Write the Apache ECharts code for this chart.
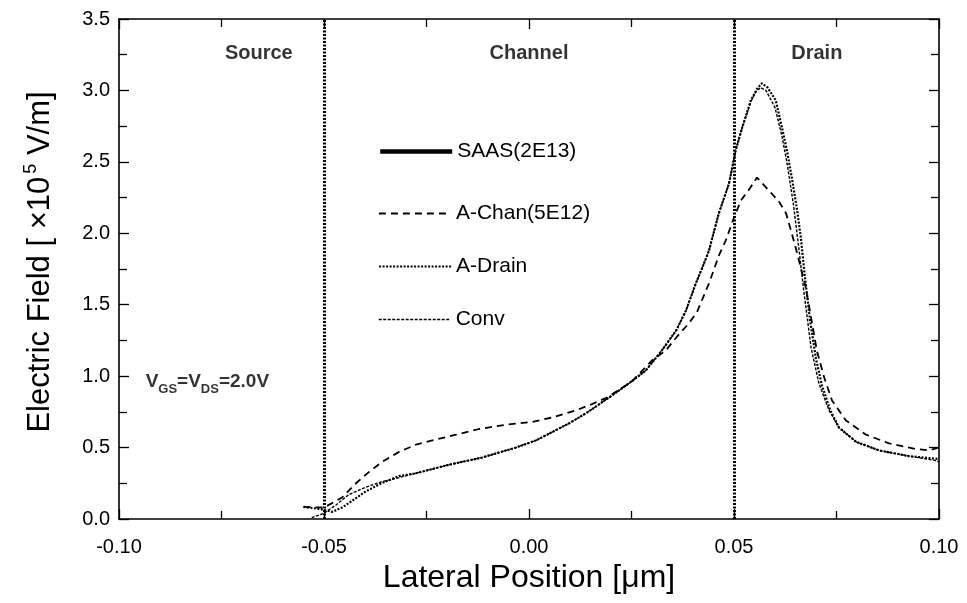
<!DOCTYPE html>
<html><head><meta charset="utf-8">
<script src="https://cdn.jsdelivr.net/npm/echarts@6/dist/echarts.min.js"></script>
<style>html,body{margin:0;padding:0;background:#fff}#c{width:967px;height:603px}</style>
</head><body><div id="c"></div>
<script>
// ---- data ----
const seriesNames = ['SAAS(2E13)', 'A-Chan(5E12)', 'A-Drain', 'Conv'];

// SAAS(2E13): no visible curve in the figure
const saasX = [];
const saasY = [];

const achanX = [-0.055,-0.05,-0.0456,-0.0422,-0.039,-0.0358,-0.0317,-0.0276,-0.0236,-0.0178,-0.0122,-0.0056,0.0008,0.0056,0.0114,0.015,0.019,0.025,0.030,0.0334,0.0359,0.039,0.041,0.0439,0.0464,0.048,0.050,0.0517,0.054,0.0556,0.0585,0.061,0.0627,0.0639,0.0655,0.0675,0.0688,0.0702,0.072,0.0739,0.0773,0.0822,0.0878,0.0944,0.0975,0.1];
const achanY = [0.085,0.08,0.15,0.25,0.33,0.40,0.47,0.52,0.55,0.59,0.63,0.66,0.68,0.71,0.76,0.80,0.85,0.96,1.11,1.18,1.27,1.37,1.45,1.65,1.85,1.95,2.11,2.23,2.32,2.39,2.30,2.22,2.14,2.02,1.85,1.62,1.41,1.18,0.99,0.83,0.69,0.59,0.53,0.49,0.48,0.50];

const adrainX = [-0.055,-0.051,-0.048,-0.0456,-0.043,-0.040,-0.036,-0.0317,-0.0276,-0.0195,-0.0115,-0.0032,0.0017,0.0098,0.0139,0.0195,0.0244,0.0285,0.0324,0.0359,0.0383,0.0407,0.0427,0.0439,0.0463,0.0488,0.0504,0.052,0.0541,0.0556,0.0568,0.0582,0.0602,0.0617,0.0629,0.0641,0.0654,0.0663,0.0672,0.0685,0.070,0.0715,0.0735,0.0756,0.0798,0.0854,0.0927,0.1];
const adrainY = [0.085,0.07,0.05,0.08,0.13,0.19,0.25,0.30,0.32,0.38,0.43,0.50,0.55,0.67,0.74,0.85,0.95,1.04,1.18,1.32,1.46,1.65,1.79,1.88,2.14,2.35,2.58,2.74,2.93,3.01,3.05,3.02,2.93,2.74,2.58,2.39,2.16,1.97,1.72,1.40,1.12,0.93,0.76,0.64,0.54,0.48,0.44,0.42];

const convX = [-0.053,-0.05,-0.047,-0.044,-0.040,-0.036,-0.0317,-0.0276,-0.0195,-0.0115,-0.0032,0.0017,0.0098,0.0139,0.0195,0.0244,0.0285,0.0324,0.0359,0.0383,0.0407,0.0427,0.0439,0.0463,0.0488,0.0504,0.052,0.0541,0.0553,0.0565,0.0578,0.060,0.0617,0.063,0.0645,0.066,0.067,0.0688,0.0707,0.0732,0.0756,0.0798,0.0854,0.0927,0.099,0.1];
const convY = [0.01,0.04,0.10,0.17,0.22,0.26,0.29,0.32,0.38,0.43,0.50,0.55,0.67,0.74,0.85,0.95,1.04,1.18,1.32,1.46,1.65,1.79,1.88,2.14,2.35,2.58,2.74,2.92,2.99,3.02,3.00,2.88,2.68,2.48,2.20,1.85,1.60,1.20,0.95,0.76,0.64,0.54,0.48,0.44,0.41,0.40];

const boundaries = [-0.05, 0.05];
const regionNames = ['Source', 'Channel', 'Drain'];
const regionX = [-0.0659, 0.0, 0.0702];
const regionY = [3.26, 3.26, 3.26];
const biasLabelPos = [-0.0935, 0.95];

const xTickLabels = ['-0.10', '-0.05', '0.00', '0.05', '0.10'];
const yTickLabels = ['0.0', '0.5', '1.0', '1.5', '2.0', '2.5', '3.0', '3.5'];

// ---- chart ----
const FONT = 'Liberation Sans, Arial, Helvetica, sans-serif';
const pair = (xs, ys) => xs.map((x, i) => [x, ys[i]]);
const chart = echarts.init(document.getElementById('c'), null, {renderer: 'canvas'});

const axisBase = {
  axisLine: {show: true, onZero: false, lineStyle: {color: '#000', width: 1.6}},
  axisTick: {show: true, inside: true, length: 10, lineStyle: {color: '#000', width: 1.3}},
  minorTick: {show: true, splitNumber: 2, length: 8, lineStyle: {color: '#000', width: 1.3}},
  splitLine: {show: false}
};

const legendCenters = [150, 212, 265, 318];

const option = {
  backgroundColor: '#fff',
  animation: false,
  textStyle: {fontFamily: FONT},
  grid: {left: 119, right: 28, top: 19, bottom: 84, containLabel: false},
  legend: seriesNames.map((n, i) => ({
    data: [n], left: 378, top: legendCenters[i] - 9, orient: 'vertical', padding: 0,
    itemWidth: 72, itemHeight: 24, itemGap: 5, selectedMode: false,
    itemStyle: {color: 'transparent', borderColor: 'transparent', borderWidth: 0, opacity: 0},
    lineStyle: {width: 'inherit'},
    textStyle: {fontFamily: FONT, fontSize: 21, color: '#000'}
  })),
  xAxis: [
    Object.assign({}, axisBase, {
      type: 'value', min: -0.1, max: 0.1, interval: 0.05, position: 'bottom',
      axisLabel: {color: '#000', fontSize: 20, fontFamily: FONT, margin: 18,
        formatter: v => xTickLabels[Math.round((v + 0.1) / 0.05)]},
      name: 'Lateral Position [μm]', nameLocation: 'middle', nameGap: 43,
      nameTextStyle: {fontSize: 32, color: '#000', fontFamily: FONT}
    }),
    Object.assign({}, axisBase, {
      type: 'value', min: -0.1, max: 0.1, interval: 0.05, position: 'top',
      axisLabel: {show: false}
    })
  ],
  yAxis: [
    Object.assign({}, axisBase, {
      type: 'value', min: 0, max: 3.5, interval: 0.5, position: 'left',
      axisLabel: {color: '#000', fontSize: 20, fontFamily: FONT, margin: 9,
        formatter: v => yTickLabels[Math.round(v / 0.5)]},
      name: '{a|Electric Field [ ×10}{s|5}{a| V/m]}', nameLocation: 'middle', nameGap: 63, nameRotate: 90,
      nameTextStyle: {fontSize: 31, color: '#000', fontFamily: FONT, padding: [0, 0, 0, 14],
        rich: {
          a: {fontSize: 31, color: '#000', fontFamily: FONT, verticalAlign: 'bottom', lineHeight: 36},
          s: {fontSize: 18, color: '#000', fontFamily: FONT, verticalAlign: 'bottom', lineHeight: 36, padding: [0, 0, 16, 3]}
        }}
    }),
    Object.assign({}, axisBase, {
      type: 'value', min: 0, max: 3.5, interval: 0.5, position: 'right',
      axisLabel: {show: false}
    })
  ],
  series: [
    {
      name: seriesNames[0], type: 'line', data: pair(saasX, saasY), showSymbol: false, symbol: 'none',
      lineStyle: {color: '#000', width: 4.5, type: 'solid'}, itemStyle: {color: '#000'}
    },
    {
      name: seriesNames[1], type: 'line', data: pair(achanX, achanY), showSymbol: false, symbol: 'none',
      lineStyle: {color: '#000', width: 1.8, type: [7, 5]}, itemStyle: {color: '#000'}
    },
    {
      name: seriesNames[2], type: 'line', data: pair(adrainX, adrainY), showSymbol: false, symbol: 'none',
      lineStyle: {color: '#000', width: 2.2, type: [2, 1.5]}, itemStyle: {color: '#000'}
    },
    {
      name: seriesNames[3], type: 'line', data: pair(convX, convY), showSymbol: false, symbol: 'none',
      lineStyle: {color: '#000', width: 1.4, type: [3, 1.5]}, itemStyle: {color: '#000'},
      markLine: {
        silent: true, symbol: ['none', 'none'], label: {show: false},
        lineStyle: {color: '#000', width: 3, type: [2, 1.5]},
        data: boundaries.map(b => ({xAxis: b}))
      }
    },
    {
      type: 'scatter', silent: true, symbolSize: 0,
      data: regionNames.map((n, i) => ({name: n, value: [regionX[i], regionY[i]]})),
      label: {show: true, position: 'inside', formatter: p => p.name,
        fontFamily: FONT, fontSize: 20, fontWeight: 'bold', color: '#000'}
    },
    {
      type: 'scatter', silent: true, symbolSize: 0,
      data: [{name: 'bias', value: biasLabelPos}],
      label: {show: true, position: 'inside', align: 'left', verticalAlign: 'middle',
        formatter: '{m|V}{b|GS}{m|=V}{b|DS}{m|=2.0V}',
        rich: {
          m: {fontFamily: FONT, fontSize: 19, fontWeight: 'bold', color: '#000', verticalAlign: 'bottom', lineHeight: 26, padding: [0, 0, 5, 0]},
          b: {fontFamily: FONT, fontSize: 13, fontWeight: 'bold', color: '#000', verticalAlign: 'bottom', lineHeight: 26}
        }}
    }
  ]
};
chart.setOption(option);
</script>
</body></html>
